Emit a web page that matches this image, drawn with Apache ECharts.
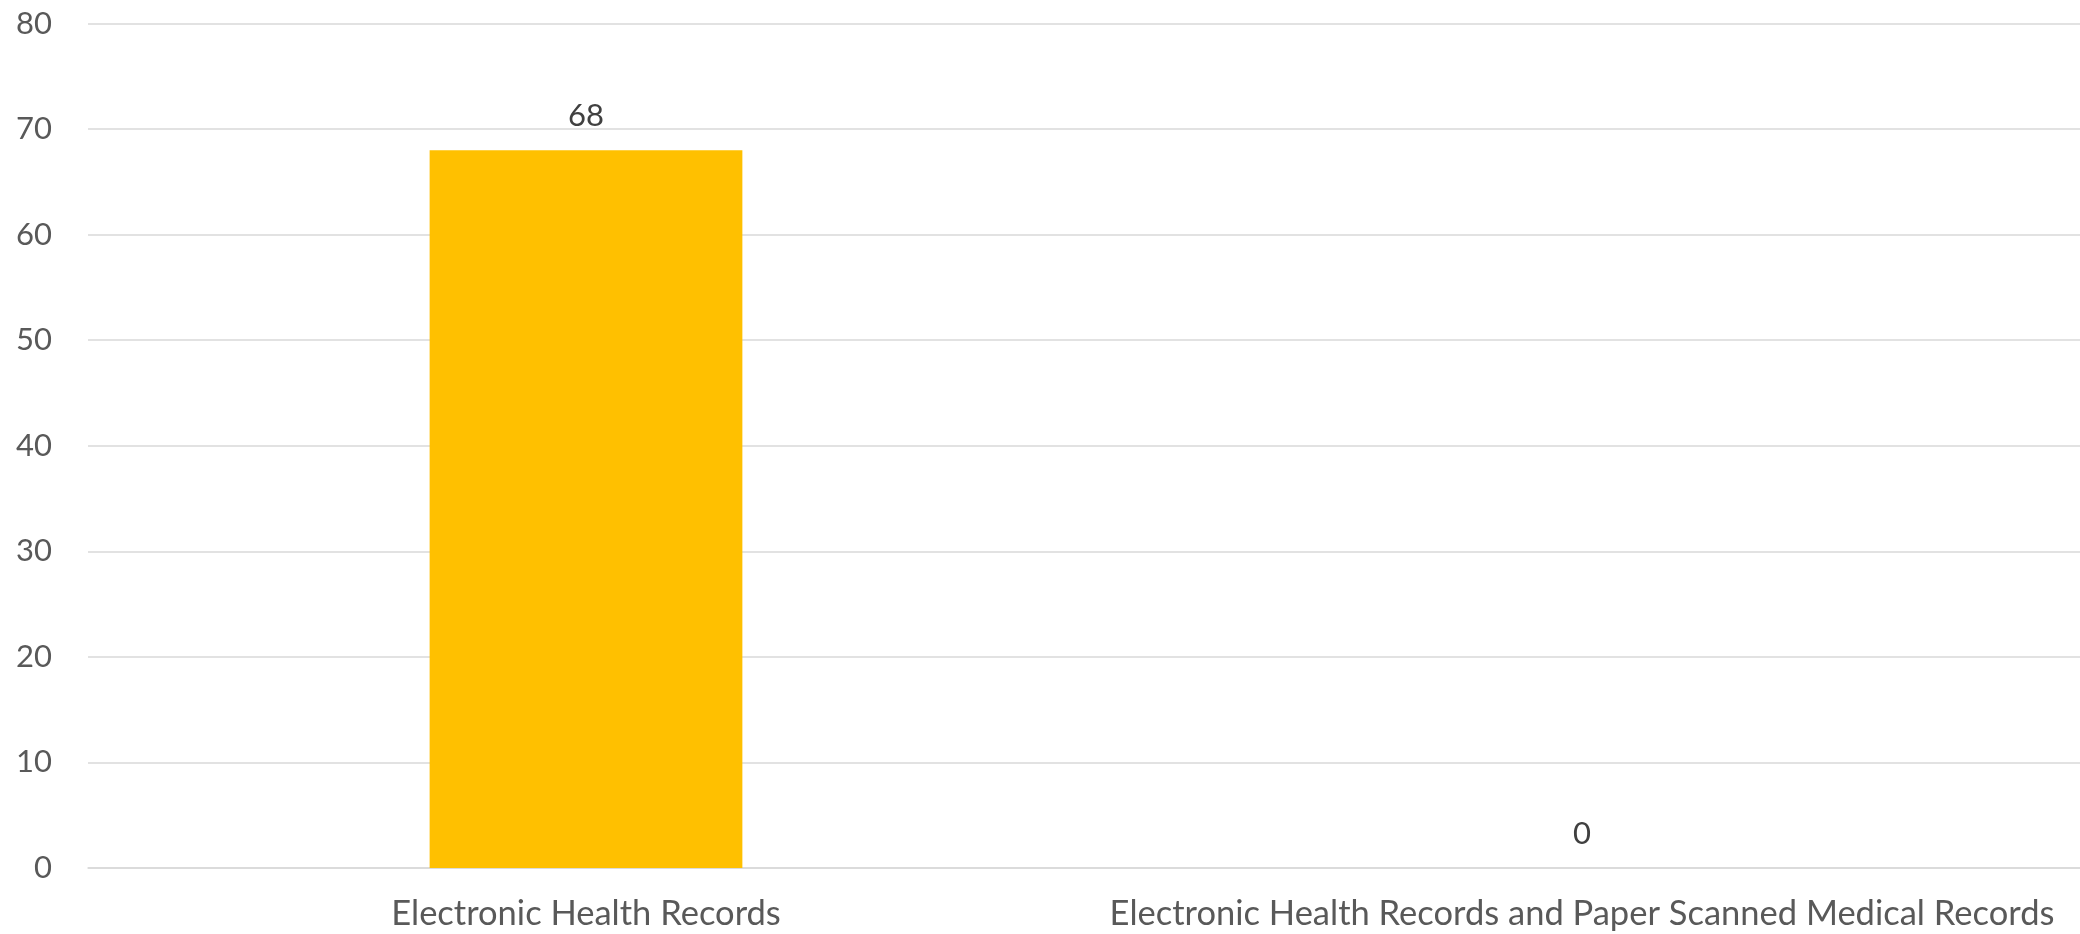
<!DOCTYPE html>
<html>
<head>
<meta charset="utf-8">
<script src="https://cdn.jsdelivr.net/npm/echarts@6/dist/echarts.min.js"></script>
<style>
html,body{margin:0;padding:0;background:#fff;}
#chart{width:2080px;height:934px;}
</style>
</head>
<body>
<div id="chart"></div>
<script>
const categories = ["Electronic Health Records", "Electronic Health Records and Paper Scanned Medical Records"];
const values = [68, 0];
const yTicks = {min: 0, max: 80, interval: 10};

const chart = echarts.init(document.getElementById('chart'), null, {renderer: 'canvas'});
chart.setOption({
  animation: false,
  backgroundColor: '#ffffff',
  grid: {left: 88, right: 0, top: 23.5, bottom: 66, containLabel: false},
  xAxis: {
    type: 'category',
    data: categories,
    axisLine: {show: true, lineStyle: {color: '#d9d9d9', width: 1.5}},
    axisTick: {show: false},
    axisLabel: {color: '#595959', fontFamily: 'Lato', fontSize: 34.5, margin: 28, interval: 0}
  },
  yAxis: {
    type: 'value',
    min: yTicks.min, max: yTicks.max, interval: yTicks.interval,
    axisLine: {show: false},
    axisTick: {show: false},
    splitLine: {lineStyle: {color: '#d9d9d9', width: 1.5}},
    axisLabel: {color: '#595959', fontFamily: 'Lato', fontSize: 31, margin: 36}
  },
  series: [{
    type: 'bar',
    data: values,
    barWidth: '31.4%',
    itemStyle: {color: '#FFC000'},
    label: {show: true, position: 'top', distance: 19, color: '#404040', fontFamily: 'Lato', fontSize: 31}
  }]
});
</script>
</body>
</html>
